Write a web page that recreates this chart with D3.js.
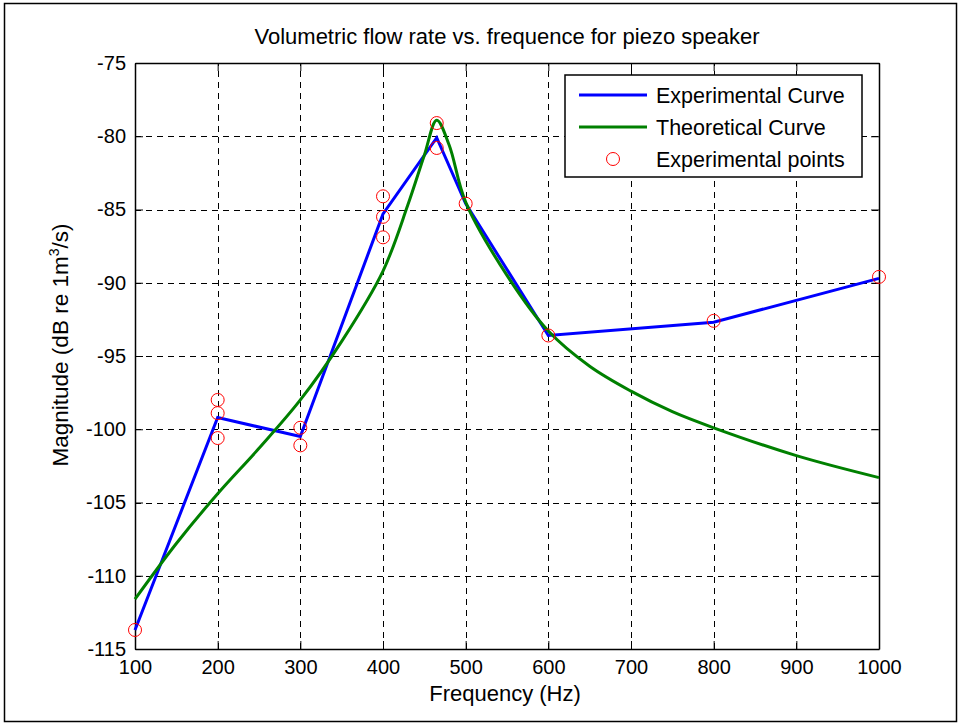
<!DOCTYPE html>
<html>
<head>
<meta charset="utf-8">
<script src="https://cdn.jsdelivr.net/npm/d3@7"></script>
<style>
  body { margin: 0; background: #fff; }
  svg text { font-family: 'Liberation Sans', Arial, Helvetica, sans-serif; fill: #000; }
</style>
</head>
<body>
<svg id="chart" width="961" height="726"></svg>
<script>
// experimental curve (Hz, dB)
const expFreq = [100, 200, 300, 400, 465, 500, 600, 800, 1000]
const expMag = [-113.7, -99.2, -100.5, -85.3, -80.1, -84.6, -93.6, -92.7, -89.7]

// theoretical curve
const theoFreq = [100, 150, 200, 250, 300, 350, 400, 430, 450, 465, 480, 500, 550, 600, 650, 700, 750, 800, 900, 1000]
const theoMag = [-111.6, -107.8, -104.4, -101.3, -98.0, -94.0, -89.2, -84.7, -81.3, -78.9, -80.6, -84.5, -89.5, -93.3, -95.7, -97.4, -98.8, -99.9, -101.8, -103.3]

// measured points
const ptFreq = [100, 200, 200, 200, 300, 300, 400, 400, 400, 465, 465, 500, 600, 800, 1000]
const ptMag = [-113.7, -98.0, -98.9, -100.6, -99.9, -101.1, -84.1, -85.5, -86.9, -79.1, -80.8, -84.6, -93.6, -92.6, -89.6]

const xTicks = [100, 200, 300, 400, 500, 600, 700, 800, 900, 1000]
const yTicks = [-75, -80, -85, -90, -95, -100, -105, -110, -115]

const svg = d3.select('svg#chart')
const pLeft = 135, pRight = 879, pTop = 63, pBottom = 649

// figure frame
svg.append('rect')
  .attr('x', 4.5).attr('y', 3.5).attr('width', 952).attr('height', 718)
  .attr('fill', 'none').attr('stroke', '#000').attr('stroke-width', 1.5)

const x = d3.scaleLinear().domain([100, 1000]).range([pLeft, pRight])
const y = d3.scaleLinear().domain([-115, -75]).range([pBottom, pTop])

// grid
const grid = svg.append('g')
  .attr('stroke', '#000').attr('stroke-width', 1).attr('stroke-dasharray', '6,5')
grid.selectAll('line.gx')
  .data(xTicks.slice(1, -1))
  .enter()
    .append('line')
      .attr('x1', d => Math.round(x(d)) + 0.5).attr('x2', d => Math.round(x(d)) + 0.5)
      .attr('y1', pBottom).attr('y2', pTop)
grid.selectAll('line.gy')
  .data(yTicks.slice(1, -1))
  .enter()
    .append('line')
      .attr('y1', d => Math.round(y(d)) + 0.5).attr('y2', d => Math.round(y(d)) + 0.5)
      .attr('x1', pLeft).attr('x2', pRight)

// axes with inward ticks on all four sides
const fmt = d => String(d)
const axB = svg.append('g').attr('transform', `translate(0,${pBottom})`)
  .call(d3.axisBottom(x).tickValues(xTicks).tickSizeInner(-8).tickSizeOuter(0).tickPadding(11).tickFormat(fmt))
const axT = svg.append('g').attr('transform', `translate(0,${pTop})`)
  .call(d3.axisTop(x).tickValues(xTicks).tickSizeInner(-8).tickSizeOuter(0).tickFormat(''))
const axL = svg.append('g').attr('transform', `translate(${pLeft},0)`)
  .call(d3.axisLeft(y).tickValues(yTicks).tickSizeInner(-8).tickSizeOuter(0).tickPadding(9).tickFormat(fmt))
const axR = svg.append('g').attr('transform', `translate(${pRight},0)`)
  .call(d3.axisRight(y).tickValues(yTicks).tickSizeInner(-8).tickSizeOuter(0).tickFormat(''))

;[axB, axT, axL, axR].forEach(a => {
  a.attr('font-family', null)
  a.select('.domain').attr('stroke', '#000').attr('stroke-width', 1.5)
  a.selectAll('.tick line').attr('stroke', '#000')
  a.selectAll('.tick text').attr('font-size', 20).attr('fill', '#000')
})

// lines
const expLine = d3.line().x(d => x(expFreq[d])).y(d => y(expMag[d]))
svg.append('path')
  .attr('d', expLine(d3.range(expFreq.length)))
  .attr('fill', 'none').attr('stroke', '#0000ff').attr('stroke-width', 3)

const theoLine = d3.line().x(d => x(theoFreq[d])).y(d => y(theoMag[d])).curve(d3.curveCatmullRom.alpha(0.5))
svg.append('path')
  .attr('d', theoLine(d3.range(theoFreq.length)))
  .attr('fill', 'none').attr('stroke', '#008000').attr('stroke-width', 3)

svg.append('g')
  .selectAll('circle')
  .data(d3.range(ptFreq.length))
  .enter()
    .append('circle')
      .attr('cx', d => x(ptFreq[d]))
      .attr('cy', d => y(ptMag[d]))
      .attr('r', 6.5)
      .attr('fill', 'none').attr('stroke', '#ff0000').attr('stroke-width', 1)

// legend
const legend = svg.append('g').attr('transform', 'translate(565,75)')
legend.append('rect')
  .attr('width', 297).attr('height', 102)
  .attr('fill', '#fff').attr('stroke', '#000').attr('stroke-width', 1.5)
const items = [
  { text: 'Experimental Curve', color: '#0000ff', kind: 'line' },
  { text: 'Theoretical Curve', color: '#008000', kind: 'line' },
  { text: 'Experimental points', color: '#ff0000', kind: 'marker' }
]
const rows = legend.selectAll('g.item')
  .data(items)
  .enter()
    .append('g')
      .attr('transform', (d, i) => `translate(0,${20 + i * 32})`)
rows.filter(d => d.kind === 'line').append('line')
  .attr('x1', 14).attr('x2', 82)
  .attr('stroke', d => d.color).attr('stroke-width', 3)
rows.filter(d => d.kind === 'marker').append('circle')
  .attr('cx', 48).attr('r', 6.5)
  .attr('fill', 'none').attr('stroke', d => d.color)
rows.append('text')
  .attr('x', 91).attr('dy', '0.35em')
  .attr('font-size', 21.5)
  .text(d => d.text)

// title and axis labels
svg.append('text')
  .attr('x', 507).attr('y', 44)
  .attr('text-anchor', 'middle').attr('font-size', 22)
  .text('Volumetric flow rate vs. frequence for piezo speaker')

svg.append('text')
  .attr('x', 505).attr('y', 701)
  .attr('text-anchor', 'middle').attr('font-size', 22)
  .text('Frequency (Hz)')

const yl = svg.append('text')
  .attr('transform', 'translate(68,345) rotate(-90)')
  .attr('text-anchor', 'middle').attr('font-size', 22.5)
yl.append('tspan').text('Magnitude (dB re 1m')
yl.append('tspan').attr('font-size', 14).attr('dy', -9).text('3')
yl.append('tspan').attr('dy', 9).text('/s)')
</script>
</body>
</html>
